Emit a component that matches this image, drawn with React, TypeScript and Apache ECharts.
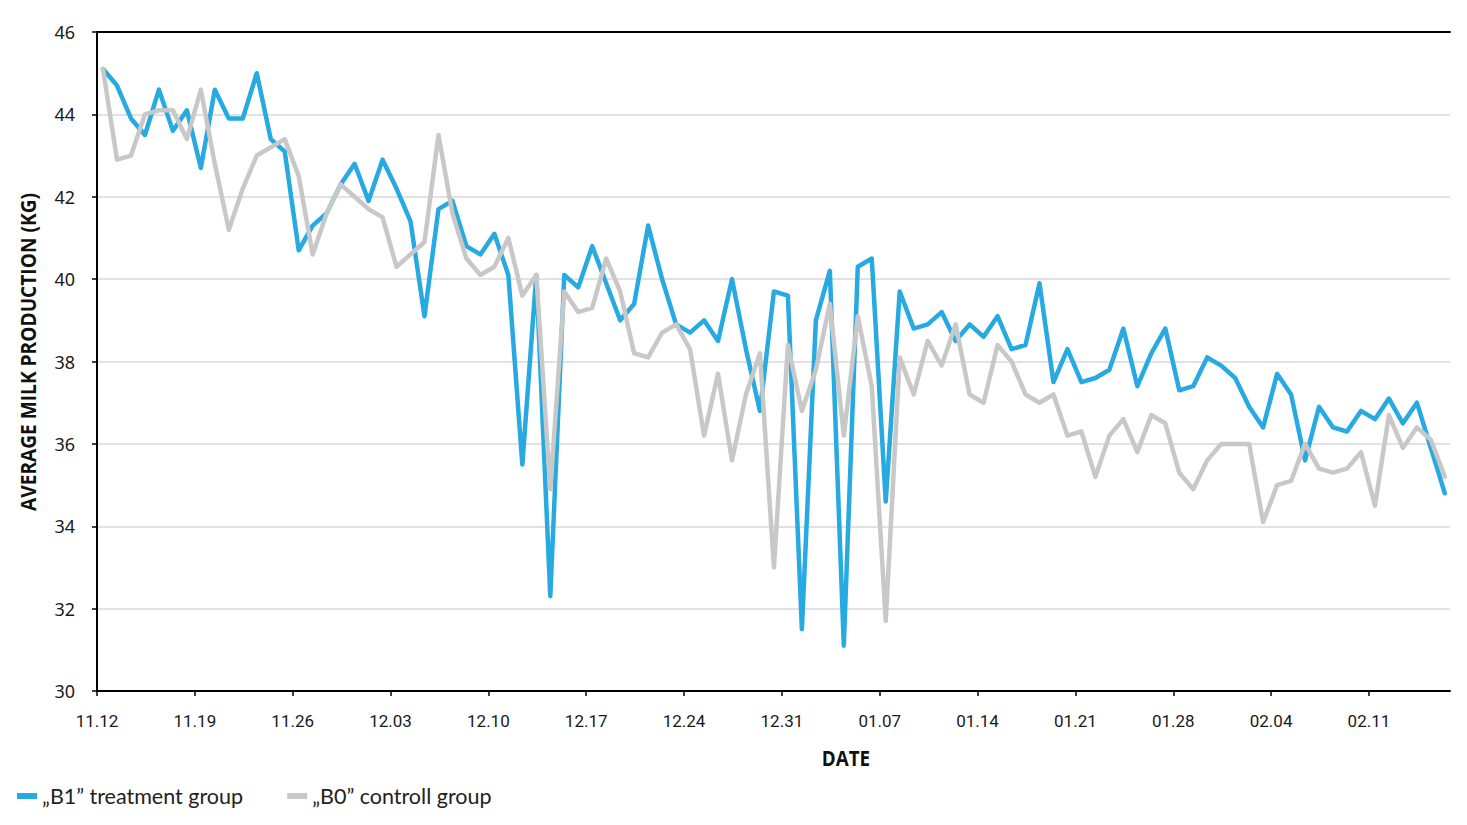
import React, { useEffect, useRef } from 'react';
import * as echarts from 'echarts';

// Week tick labels (every 7 days starting 11.12)
const weekLabels = ['11.12', '11.19', '11.26', '12.03', '12.10', '12.17', '12.24', '12.31', '01.07', '01.14', '01.21', '01.28', '02.04', '02.11'];

// Daily average milk production (kg), one value per day from 11.12
const b1Treatment = [
  45.1, 44.7, 43.9, 43.5, 44.6, 43.6, 44.1, 42.7, 44.6, 43.9,
  43.9, 45.0, 43.4, 43.1, 40.7, 41.3, 41.6, 42.3, 42.8, 41.9,
  42.9, 42.2, 41.4, 39.1, 41.7, 41.9, 40.8, 40.6, 41.1, 40.1,
  35.5, 40.1, 32.3, 40.1, 39.8, 40.8, 39.9, 39.0, 39.4, 41.3,
  40.0, 38.9, 38.7, 39.0, 38.5, 40.0, 38.3, 36.8, 39.7, 39.6,
  31.5, 39.0, 40.2, 31.1, 40.3, 40.5, 34.6, 39.7, 38.8, 38.9,
  39.2, 38.5, 38.9, 38.6, 39.1, 38.3, 38.4, 39.9, 37.5, 38.3,
  37.5, 37.6, 37.8, 38.8, 37.4, 38.2, 38.8, 37.3, 37.4, 38.1,
  37.9, 37.6, 36.9, 36.4, 37.7, 37.2, 35.6, 36.9, 36.4, 36.3,
  36.8, 36.6, 37.1, 36.5, 37.0, 35.9, 34.8,
];

const b0Control = [
  45.1, 42.9, 43.0, 44.0, 44.1, 44.1, 43.4, 44.6, 42.8, 41.2,
  42.2, 43.0, 43.2, 43.4, 42.5, 40.6, 41.6, 42.3, 42.0, 41.7,
  41.5, 40.3, 40.6, 40.9, 43.5, 41.6, 40.5, 40.1, 40.3, 41.0,
  39.6, 40.1, 34.9, 39.7, 39.2, 39.3, 40.5, 39.7, 38.2, 38.1,
  38.7, 38.9, 38.3, 36.2, 37.7, 35.6, 37.2, 38.2, 33.0, 38.4,
  36.8, 37.8, 39.4, 36.2, 39.1, 37.4, 31.7, 38.1, 37.2, 38.5,
  37.9, 38.9, 37.2, 37.0, 38.4, 38.0, 37.2, 37.0, 37.2, 36.2,
  36.3, 35.2, 36.2, 36.6, 35.8, 36.7, 36.5, 35.3, 34.9, 35.6,
  36.0, 36.0, 36.0, 34.1, 35.0, 35.1, 36.0, 35.4, 35.3, 35.4,
  35.8, 34.5, 36.7, 35.9, 36.4, 36.1, 35.2,
];

const seriesNames = ['\u201EB1\u201D treatment group', '\u201EB0\u201D controll group'];
const seriesColors = ['#27a9e1', '#c8c8c8'];

// Samples recorded at the same time of day (fraction of a day after midnight)
const sampleTimeOfDay = 0.43;
const daysPerWeek = 7;
const axisDays = 96.8;

const Y_MIN = 30;
const Y_MAX = 46;
const Y_STEP = 2;

const TITLE_FONT = 'bold 22px "Open Sans", sans-serif';

export default function App() {
  const ref = useRef<HTMLDivElement>(null);

  useEffect(() => {
    if (!ref.current) return;
    const chart = echarts.init(ref.current, undefined, { renderer: 'svg' });
    const weekTicks = weekLabels.map((_, i) => i * daysPerWeek);
    const toPoints = (arr: number[]) => arr.map((v, i) => [i + sampleTimeOfDay, v]);

    chart.setOption({
      animation: false,
      backgroundColor: '#ffffff',
      grid: { left: 97, right: 17, top: 32, bottom: 134, containLabel: false },
      legend: {
        data: seriesNames,
        left: 17,
        top: 784,
        padding: 0,
        icon: 'rect',
        itemWidth: 20,
        itemHeight: 6,
        itemGap: 44,
        textStyle: { fontFamily: 'Lato, sans-serif', fontSize: 21.5, color: '#222', lineHeight: 24 },
      },
      xAxis: [
        {
          type: 'value',
          min: 0,
          max: axisDays,
          position: 'bottom',
          axisLine: { show: true, lineStyle: { color: '#000', width: 2 } },
          axisTick: { show: true, length: 5, customValues: weekTicks, lineStyle: { color: '#000', width: 1.5 } },
          axisLabel: {
            customValues: weekTicks,
            formatter: (v: number) => weekLabels[Math.round(v / daysPerWeek)] ?? '',
            fontFamily: 'Roboto, sans-serif',
            fontSize: 17,
            color: '#1a1a1a',
            margin: 21,
          },
          splitLine: { show: false },
        },
        {
          type: 'value',
          min: 0,
          max: axisDays,
          position: 'top',
          axisLine: { show: true, onZero: false, lineStyle: { color: '#000', width: 2 } },
          axisTick: { show: false },
          axisLabel: { show: false },
          splitLine: { show: false },
        },
      ],
      yAxis: {
        type: 'value',
        min: Y_MIN,
        max: Y_MAX,
        interval: Y_STEP,
        axisLine: { show: true, lineStyle: { color: '#000', width: 2 } },
        axisTick: { show: true, length: 5, lineStyle: { color: '#000', width: 1.5 } },
        axisLabel: { fontFamily: '"Noto Sans", sans-serif', fontSize: 18, color: '#1a1a1a', margin: 22 },
        splitLine: { show: true, lineStyle: { color: '#d9d9d9', width: 1.5 } },
      },
      graphic: [
        {
          type: 'text',
          x: 27,
          y: 352,
          rotation: Math.PI / 2,
          scaleX: 0.87,
          style: {
            text: 'AVERAGE MILK PRODUCTION (KG)',
            font: TITLE_FONT,
            fill: '#111',
            textAlign: 'center',
            textVerticalAlign: 'middle',
          },
        },
        {
          type: 'text',
          x: 846,
          y: 757,
          scaleX: 0.855,
          style: {
            text: 'DATE',
            font: TITLE_FONT,
            fill: '#111',
            textAlign: 'center',
            textVerticalAlign: 'middle',
          },
        },
      ],
      series: [
        {
          name: seriesNames[0],
          type: 'line',
          data: toPoints(b1Treatment),
          showSymbol: false,
          symbol: 'none',
          color: seriesColors[0],
          lineStyle: { color: seriesColors[0], width: 4.5, cap: 'round', join: 'round' },
        },
        {
          name: seriesNames[1],
          type: 'line',
          data: toPoints(b0Control),
          showSymbol: false,
          symbol: 'none',
          color: seriesColors[1],
          lineStyle: { color: seriesColors[1], width: 4.5, cap: 'round', join: 'round' },
        },
      ],
    });

    return () => chart.dispose();
  }, []);

  return (
    <div
      ref={ref}
      style={{ position: 'fixed', left: 0, top: 0, width: 1467, height: 825, background: '#fff' }}
    />
  );
}
